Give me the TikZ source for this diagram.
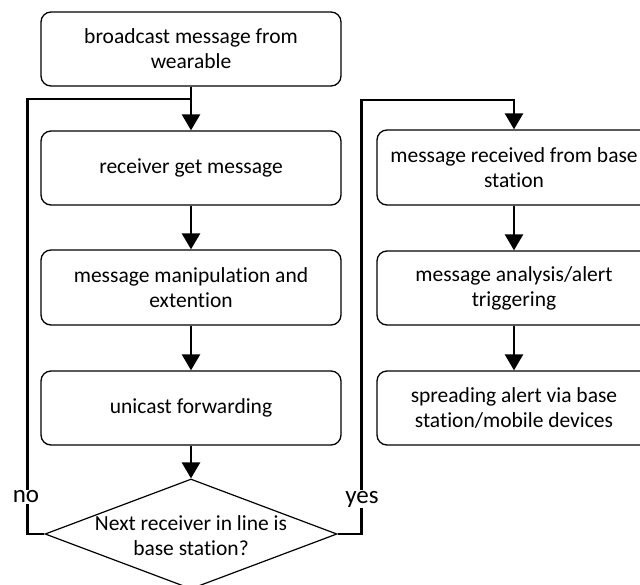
\documentclass[tikz,border=0pt]{standalone}
\usepackage{fontspec}
\setmainfont{Carlito}[RawFeature=-liga]
\usetikzlibrary{arrows.meta,shapes.geometric,calc}
\begin{document}
\begin{tikzpicture}[x=1pt,y=-1pt,
  box/.style={draw,line width=1.3pt,rounded corners=10pt,minimum width=300pt,minimum height=74pt,align=center,inner sep=0pt,font=\fontsize{21.5}{25}\selectfont},
  rbox/.style={box,minimum width=274pt},
  conn/.style={line width=2.6pt},
  arr/.style={conn,-{Triangle[width=18pt,length=16pt]}},
  lbl/.style={fill=white,inner sep=1pt,font=\fontsize{25}{28}\selectfont}]
\clip (0,0) rectangle (640,584);
\node[box] (b1) at (191,49) {broadcast message from\\wearable};
\node[box] (b2) at (191,168) {receiver get message};
\node[box,minimum height=75pt] (b3) at (191,287.5) {message manipulation and\\extention};
\node[box] (b4) at (191,408) {unicast forwarding};
\node[draw,diamond,line width=1.2pt,minimum width=292pt,minimum height=110pt,inner sep=0pt] (d) at (191,534) {};
\node[align=center,font=\fontsize{21.5}{25}\selectfont] (dt) at (191,536) {Next receiver in line is\\base station?};
\node[rbox,minimum height=75pt] (b5) at (514,167.5) {message received from base\\station};
\node[rbox] (b6) at (514,288) {message analysis/alert\\triggering};
\node[rbox] (b7) at (514,408) {spreading alert via base\\station/mobile devices};
\coordinate (j) at (191,99);
\coordinate (yt) at (514,100);
\draw[arr] (b1.south) -- (b2.north);
\draw[arr] (b2.south) -- (b3.north);
\draw[arr] (b3.south) -- (b4.north);
\draw[arr] (b4.south) -- (d.north);
\draw[arr] (b5.south) -- (b6.north);
\draw[arr] (b6.south) -- (b7.north);
\draw[conn] (d.west) -- ++(-17,0) |- (j);
\draw[arr] (d.east) -- ++(24,0) |- (yt) -- (b5.north);
\node[lbl] (no) at (26,497) {no};
\node[lbl] (yes) at (362,499) {yes};
\end{tikzpicture}
\end{document}
